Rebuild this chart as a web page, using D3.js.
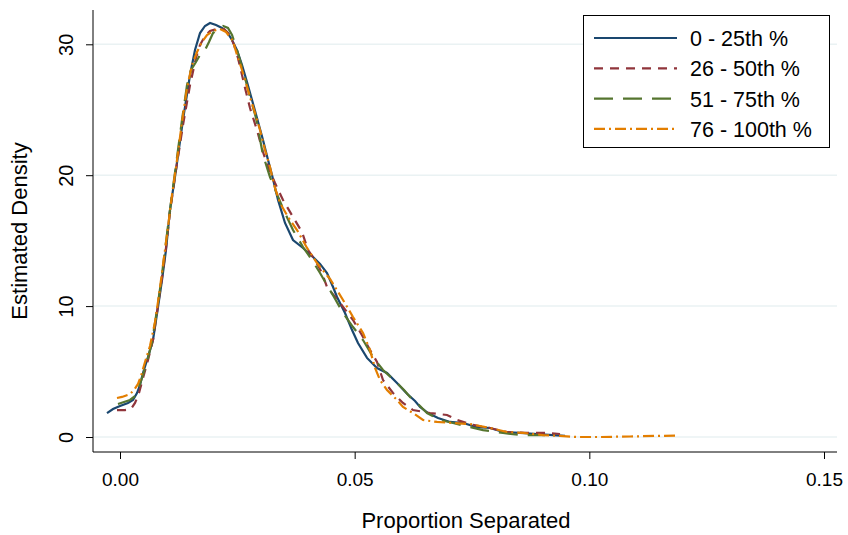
<!DOCTYPE html>
<html><head><meta charset="utf-8">
<script src="https://cdn.jsdelivr.net/npm/d3@7"></script>
<style>body{margin:0;background:#fff}svg{display:block}text{font-family:"Liberation Sans",Arial,sans-serif;fill:#000}</style>
</head><body>
<svg id="c" width="848" height="535"></svg>
<script>
const seriesNames = ["0 - 25th %", "26 - 50th %", "51 - 75th %", "76 - 100th %"];
const seriesColors = ["#1a476f", "#90353b", "#55752f", "#e37e00"];
const seriesDash = [null, "9,7", "19,10", "11,4,2,4"];
const xTicks = [0, 0.05, 0.10, 0.15];
const yTicks = [0, 10, 20, 30];

const q1 = [[-0.00277,1.83],[-0.00149,2.14],[0,2.37],[0.0017,2.6],[0.00277,2.83],[0.00362,3.36],[0.00426,3.97],[0.0049,4.89],[0.00597,6.11],[0.00703,7.41],[0.0081,9.93],[0.00895,11.99],[0.0098,14.29],[0.01065,17.34],[0.01193,20.4],[0.01342,24.22],[0.01492,27.65],[0.01598,29.56],[0.01705,30.86],[0.01811,31.4],[0.01918,31.63],[0.02046,31.47],[0.02173,31.25],[0.0228,30.94],[0.02387,30.33],[0.02493,29.56],[0.026,28.42],[0.02706,27.12],[0.02813,25.74],[0.02919,24.37],[0.03047,22.69],[0.03154,21.16],[0.03239,20.02],[0.03367,18.11],[0.03516,16.35],[0.03686,15.05],[0.039,14.44],[0.04113,13.75],[0.04262,13.22],[0.04411,12.53],[0.04539,11.46],[0.04624,10.7],[0.04794,9.47],[0.04944,8.17],[0.05071,7.18],[0.05263,6.04],[0.05476,5.27],[0.05689,4.89],[0.05902,4.13],[0.06116,3.3],[0.06286,2.75],[0.06393,2.3],[0.06563,1.83],[0.06776,1.45],[0.07032,1.15],[0.07309,1.07],[0.07607,0.76],[0.07884,0.69],[0.08161,0.38],[0.08523,0.31],[0.08886,0.23],[0.09227,0.15],[0.09482,0.08]];
const q2 = [[-0.00064,2.06],[0.00107,2.06],[0.00234,2.14],[0.0032,2.6],[0.00405,3.36],[0.0049,4.51],[0.00597,5.88],[0.00703,7.41],[0.0081,10.08],[0.00895,12.15],[0.0098,14.44],[0.01065,17.19],[0.01193,20.4],[0.01342,23.83],[0.01492,26.89],[0.01619,28.95],[0.01705,29.95],[0.01811,30.63],[0.01918,31.02],[0.02067,31.17],[0.02216,31.17],[0.02344,30.71],[0.02429,29.95],[0.02514,28.95],[0.026,27.65],[0.02664,26.66],[0.0277,25.13],[0.02919,23.45],[0.03047,21.77],[0.03154,20.63],[0.03303,19.4],[0.03473,18.11],[0.03686,16.81],[0.03878,15.66],[0.04006,14.29],[0.04155,13.52],[0.04304,12.53],[0.04411,11.46],[0.04688,10.24],[0.04965,8.94],[0.05178,7.64],[0.05327,6.65],[0.05476,5.73],[0.05604,4.35],[0.05817,3.36],[0.0603,2.6],[0.06243,2.06],[0.06606,1.83],[0.06968,1.68],[0.07181,1.3],[0.07522,0.92],[0.07884,0.69],[0.08246,0.38],[0.08673,0.31],[0.09099,0.31],[0.09376,0.23]];
const q3 = [[-0.00043,2.52],[0.00085,2.67],[0.00213,2.83],[0.0032,3.13],[0.00384,3.59],[0.00469,4.51],[0.00575,5.73],[0.00682,7.26],[0.00788,9.7],[0.00874,11.84],[0.00959,14.29],[0.01065,17.34],[0.01193,20.78],[0.01321,24.22],[0.01428,26.89],[0.01513,28.04],[0.01619,28.65],[0.01705,29.18],[0.01811,29.56],[0.01896,30.18],[0.01982,30.86],[0.02088,31.17],[0.02195,31.4],[0.02301,31.25],[0.02387,30.71],[0.02472,29.79],[0.02557,28.8],[0.02664,27.43],[0.0277,25.97],[0.02898,24.37],[0.03047,21.54],[0.03196,19.86],[0.03345,18.56],[0.03516,17.11],[0.03686,15.81],[0.039,14.51],[0.04091,13.52],[0.04262,12.53],[0.04432,11.46],[0.0456,10.7],[0.04752,9.47],[0.04965,8.4],[0.05178,7.41],[0.05391,6.11],[0.05604,5.12],[0.05902,4.13],[0.06052,3.59],[0.06179,3.06],[0.06329,2.6],[0.06542,1.83],[0.06819,1.3],[0.07096,1.07],[0.07458,0.76],[0.07735,0.53],[0.08161,0.31],[0.08523,0.15],[0.08886,0.15],[0.09056,0.15]];
const q4 = [[-0.00064,2.98],[0.00043,3.06],[0.00213,3.28],[0.00298,3.59],[0.00384,4.05],[0.00447,4.66],[0.00533,5.73],[0.00639,6.95],[0.00746,8.79],[0.00831,10.85],[0.00916,13.14],[0.01001,15.43],[0.01108,18.49],[0.01215,21.16],[0.01321,24.06],[0.01428,26.66],[0.01534,28.42],[0.01641,29.41],[0.01747,30.18],[0.01854,30.71],[0.01982,31.02],[0.02131,31.17],[0.02259,30.94],[0.02408,30.25],[0.02493,29.18],[0.026,28.04],[0.0277,25.97],[0.02877,24.75],[0.02983,23.45],[0.0309,21.92],[0.03196,20.63],[0.03282,19.25],[0.03409,17.88],[0.0358,16.81],[0.03772,15.81],[0.03985,14.44],[0.04198,13.29],[0.04475,12.07],[0.04752,10.47],[0.04965,9.17],[0.05178,7.95],[0.05327,6.65],[0.05434,5.27],[0.0554,4.35],[0.05689,3.59],[0.05902,2.83],[0.0603,2.29],[0.06243,1.83],[0.06456,1.3],[0.06755,1.15],[0.07096,1.07],[0.07458,0.99],[0.07884,0.69],[0.08246,0.38],[0.08587,0.31],[0.09014,0.15],[0.09376,0.08],[0.09738,0],[0.10228,0],[0.10867,0.04],[0.114,0.08],[0.1189,0.11]];
const seriesData = [q1, q2, q3, q4];

const svg = d3.select("#c");
const x = d3.scaleLinear().domain([0, 0.15]).range([120, 824]);
const y = d3.scaleLinear().domain([0, 30]).range([437, 44.3]);
const axisX = 93, axisY = 452, plotRight = 837, plotTop = 10;

// gridlines
svg.append("g").selectAll("line").data(yTicks).join("line")
  .attr("x1", axisX + 1).attr("x2", plotRight)
  .attr("y1", d => y(d)).attr("y2", d => y(d))
  .attr("stroke", "#eaf2f3").attr("stroke-width", 1.5);

// y axis
const gy = svg.append("g").attr("transform", `translate(${axisX},0)`)
  .call(d3.axisLeft(y).tickValues(yTicks).tickSize(7).tickPadding(0).tickFormat(d3.format("d")));
gy.select(".domain").attr("d", `M0,${plotTop}V${axisY}`).attr("stroke", "#000");
gy.selectAll(".tick line").attr("stroke", "#000");
gy.selectAll(".tick text").attr("font-size", 20).attr("transform", "rotate(-90)")
  .attr("x", 0).attr("y", -20).attr("dy", 0).attr("text-anchor", "middle");

// x axis
const gx = svg.append("g").attr("transform", `translate(0,${axisY})`)
  .call(d3.axisBottom(x).tickValues(xTicks).tickSize(7).tickPadding(0).tickFormat(d3.format(".2f")));
gx.select(".domain").attr("d", `M${axisX},0H${plotRight}`).attr("stroke", "#000");
gx.selectAll(".tick line").attr("stroke", "#000");
gx.selectAll(".tick text").attr("font-size", 19).attr("y", 34).attr("dy", 0);

// titles
svg.append("text").attr("x", 466).attr("y", 528).attr("text-anchor", "middle")
  .attr("font-size", 22).text("Proportion Separated");
svg.append("text").attr("transform", "translate(27,231) rotate(-90)").attr("text-anchor", "middle")
  .attr("font-size", 22).text("Estimated Density");

// curves
const line = d3.line().x(d => x(d[0])).y(d => y(d[1]));
svg.append("g").selectAll("path").data(seriesData).join("path")
  .attr("d", line).attr("fill", "none")
  .attr("stroke", (d, i) => seriesColors[i])
  .attr("stroke-width", 2.2)
  .attr("stroke-dasharray", (d, i) => seriesDash[i]);

// legend
const lg = svg.append("g");
lg.append("rect").attr("x", 583.5).attr("y", 15.5).attr("width", 246).attr("height", 132)
  .attr("fill", "#fff").attr("stroke", "#000").attr("stroke-width", 1);
const rows = lg.selectAll("g.row").data(seriesNames).join("g").attr("class", "row")
  .attr("transform", (d, i) => `translate(0,${38 + i * 30.3})`);
rows.append("line").attr("x1", 594).attr("x2", 677).attr("y1", 0).attr("y2", 0)
  .attr("stroke", (d, i) => seriesColors[i]).attr("stroke-width", 2.2)
  .attr("stroke-dasharray", (d, i) => seriesDash[i]);
rows.append("text").attr("x", 690).attr("y", 8).attr("font-size", 21.5).text(d => d);
</script>
</body></html>
